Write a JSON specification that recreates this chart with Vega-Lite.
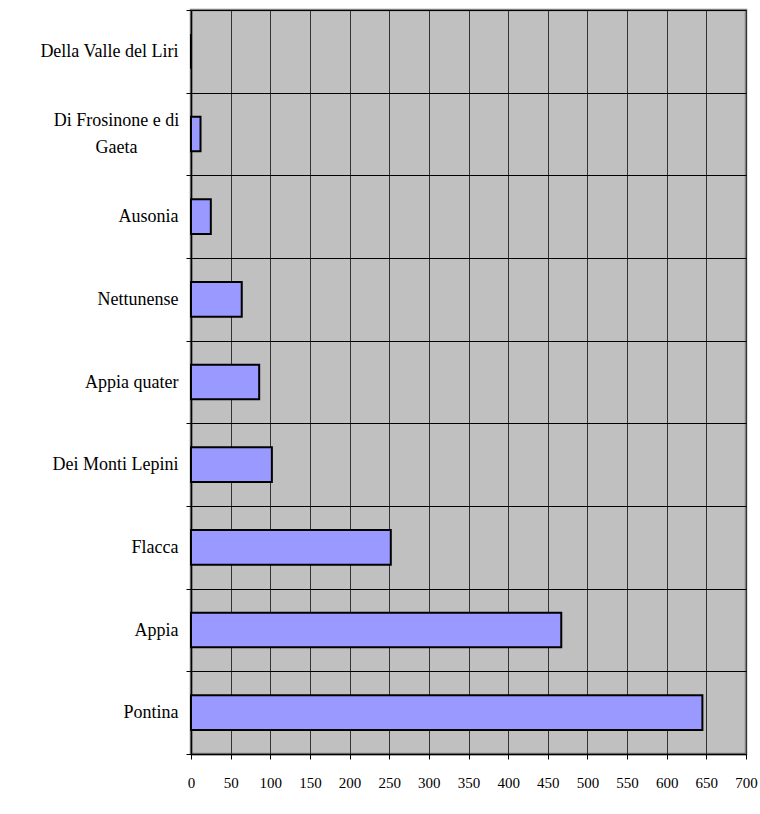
{
  "$schema": "https://vega.github.io/schema/vega-lite/v6.json",
  "autosize": "none",
  "width": 555,
  "height": 744,
  "padding": {"left": 191, "top": 10, "right": 14, "bottom": 60},
  "background": "white",
  "config": {
    "view": {"fill": "#C0C0C0", "stroke": "#808080", "strokeWidth": 2.5},
    "font": "Liberation Serif"
  },
  "data": {
    "values": [
      {"strada": "Della Valle del Liri", "valore": 0},
      {"strada": "Di Frosinone e di Gaeta", "valore": 12},
      {"strada": "Ausonia", "valore": 25},
      {"strada": "Nettunense", "valore": 64},
      {"strada": "Appia quater", "valore": 86},
      {"strada": "Dei Monti Lepini", "valore": 102},
      {"strada": "Flacca", "valore": 252},
      {"strada": "Appia", "valore": 467},
      {"strada": "Pontina", "valore": 645}
    ]
  },
  "mark": {"type": "bar", "fill": "#9999FF", "stroke": "#000000", "strokeWidth": 2, "height": {"band": 0.42}},
  "encoding": {
    "y": {
      "field": "strada",
      "type": "nominal",
      "sort": null,
      "title": null,
      "scale": {"paddingInner": 0, "paddingOuter": 0},
      "axis": {
        "tickBand": "extent",
        "grid": true,
        "gridColor": "#000000",
        "gridWidth": 1,
        "gridOpacity": 1,
        "domainColor": "#000000",
        "domainWidth": 1.5,
        "tickColor": "#000000",
        "tickSize": 5,
        "labelFont": "Liberation Serif",
        "labelFontSize": 18,
        "labelColor": "#000000",
        "labelPadding": {"condition": {"test": "datum.value == 'Di Frosinone e di Gaeta'", "value": 70}, "value": 8},
        "labelAlign": {"condition": {"test": "datum.value == 'Di Frosinone e di Gaeta'", "value": "center"}, "value": "right"},
        "labelOffset": {"condition": {"test": "datum.value == 'Di Frosinone e di Gaeta'", "value": -14}, "value": 0},
        "labelLimit": 200,
        "labelLineHeight": 27,
        "labelExpr": "datum.value == 'Di Frosinone e di Gaeta' ? ['Di Frosinone e di', 'Gaeta'] : datum.value"
      }
    },
    "x": {
      "field": "valore",
      "type": "quantitative",
      "title": null,
      "scale": {"domain": [0, 700], "nice": false},
      "axis": {
        "values": [0, 50, 100, 150, 200, 250, 300, 350, 400, 450, 500, 550, 600, 650, 700],
        "grid": true,
        "gridColor": "#333333",
        "gridWidth": 1,
        "gridOpacity": 1,
        "domainColor": "#000000",
        "domainWidth": 1.5,
        "tickColor": "#000000",
        "tickSize": 5,
        "labelFont": "Liberation Serif",
        "labelFontSize": 15,
        "labelColor": "#000000",
        "labelPadding": 16,
        "labelFlush": false
      }
    }
  }
}
